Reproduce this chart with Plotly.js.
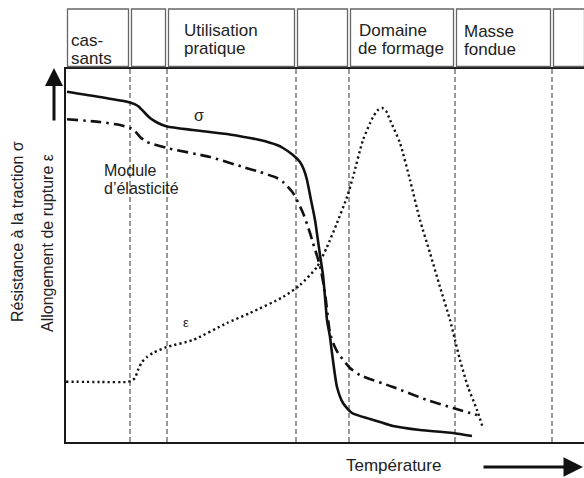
<!DOCTYPE html>
<html>
<head>
<meta charset="utf-8">
<script src="https://cdn.plot.ly/plotly-3.0.1.min.js"></script>
<style>
html,body{margin:0;padding:0;background:#fff;}
#chart{width:584px;height:478px;}
</style>
</head>
<body>
<div id="chart"></div>
<script>
// Temperature axis (arbitrary units) and curve values (arbitrary units)
var sigmaT = [1,34,64,72,78,84,92,101,127,161,184,194,211,217,227,234,238,241,245,249,254,257,259,261,264,266,271,277,286,304,314,327,354,387,406];
var sigmaV = [350.3,345,339.5,336,330,324,319,315.5,312,308,304,302,297,294,287,280,272,262,242,222,187,167,145,122,105,89,55,39,29,23,20,16,12,9,6];

var moduleT = [1,34,54,64,69,74,81,101,144,177,194,211,217,227,237,244,247,254,259,264,268,272,284,294,327,361,387,411];
var moduleV = [322.7,320,317,314,311,305,300,294,285,275,270,264,260,249,229,209,199,176,149,109,97,89,74,67,55,42,34,27];

var epsT = [0,34,61,65,69,72,76,81,87,101,127,161,184,217,234,251,261,271,281,287,297,307,312,316,320,324,334,344,354,364,374,384,389,394,402,411,417];
var epsV = [60.3,60,60,61,64,72,80,85,89,95,102,119,129,145,157,175,195,219,245,265,302,325,332,334,331,322,299,262,222,189,155,122,102,82,55,32,14];

// Zone boundaries (temperature) and zone labels
var zoneEdges = [0,64,101,230,283,389,486,520];
var zoneLines = [64,101,230,283,389,486];
var zoneLabel1 = ["cas-","","Utilisation","","Domaine","Masse",""];
var zoneLabel2 = ["sants","","pratique","","de formage","fondue",""];
var labelX1 = [3,0,116,0,291,396,0];
var labelX2 = [3,0,116,0,290,396,0];
var labelY1 = [40.5,0,30.5,0,31,31.5,0];
var labelY2 = [58.5,0,48.5,0,49,49.5,0];

var txt = '#222';
var FONT = 'Liberation Sans, Arial, sans-serif';

var traces = [
  {x: sigmaT, y: sigmaV, type:'scatter', mode:'lines', line:{color:'#111', width:2.6, shape:'spline', smoothing:0.6}, hoverinfo:'skip'},
  {x: moduleT, y: moduleV, type:'scatter', mode:'lines', line:{color:'#111', width:2.6, dash:'11px,5px,2.5px,5px', shape:'spline', smoothing:0.6}, hoverinfo:'skip'},
  {x: epsT, y: epsV, type:'scatter', mode:'lines', line:{color:'#111', width:2.4, dash:'2.2px,3px', shape:'spline', smoothing:0.6}, hoverinfo:'skip'}
];

var H = 373; // y range
function py(p){ return (442 - p)/H; }

var shapes = [];
zoneLines.forEach(function(v){
  shapes.push({type:'line', xref:'x', yref:'paper', x0:v, x1:v, y0:0, y1:1, layer:'below',
    line:{color:'#333', width:1, dash:'5px,3px'}});
});
for (var i=0;i<zoneEdges.length-1;i++){
  shapes.push({type:'rect', xref:'x', yref:'paper', x0:zoneEdges[i]+1.5, x1:zoneEdges[i+1]-1.5,
    y0:py(66.5), y1:py(9), line:{color:'#666', width:1.3}, fillcolor:'rgba(0,0,0,0)'});
}

var annotations = [];
for (var j=0;j<zoneLabel1.length;j++){
  if (zoneLabel1[j]) annotations.push({xref:'x', yref:'paper', x:labelX1[j], y:py(labelY1[j]), text:zoneLabel1[j],
    showarrow:false, xanchor:'left', yanchor:'middle', font:{family:FONT, size:17, color:txt}});
  if (zoneLabel2[j]) annotations.push({xref:'x', yref:'paper', x:labelX2[j], y:py(labelY2[j]), text:zoneLabel2[j],
    showarrow:false, xanchor:'left', yanchor:'middle', font:{family:FONT, size:17, color:txt}});
}
// curve labels
annotations.push({xref:'x', yref:'y', x:133, y:327, text:'σ', showarrow:false, xanchor:'center', yanchor:'middle', font:{family:FONT, size:16, color:txt}});
annotations.push({xref:'x', yref:'y', x:36, y:272, text:'Module', showarrow:false, xanchor:'left', yanchor:'middle', font:{family:FONT, size:16, color:txt}});
annotations.push({xref:'x', yref:'y', x:36, y:254, text:'d’élasticité', showarrow:false, xanchor:'left', yanchor:'middle', font:{family:FONT, size:16, color:txt}});
annotations.push({xref:'x', yref:'y', x:120, y:120, text:'ε', showarrow:false, xanchor:'center', yanchor:'middle', font:{family:FONT, size:13, color:txt}});
// axis titles
annotations.push({xref:'paper', yref:'paper', x:(18-66)/518, y:py(232), text:'Résistance à la traction σ', textangle:-90,
  showarrow:false, xanchor:'center', yanchor:'middle', font:{family:FONT, size:16, color:txt}});
annotations.push({xref:'paper', yref:'paper', x:(47-66)/518, y:py(243), text:'Allongement de rupture ε', textangle:-90,
  showarrow:false, xanchor:'center', yanchor:'middle', font:{family:FONT, size:16, color:txt}});
annotations.push({xref:'paper', yref:'paper', x:(393-66)/518, y:py(465), text:'Température',
  showarrow:false, xanchor:'center', yanchor:'middle', font:{family:FONT, size:17, color:txt}});
// arrows
annotations.push({xref:'paper', yref:'paper', x:(54-66)/518, y:py(68), ax:0, ay:54, text:'', showarrow:true,
  arrowhead:2, arrowsize:1.2, arrowwidth:3, arrowcolor:'#111'});
annotations.push({xref:'paper', yref:'paper', x:(583-66)/518, y:py(467), ax:-101, ay:0, text:'', showarrow:true,
  arrowhead:2, arrowsize:1.3, arrowwidth:3, arrowcolor:'#111'});

var layout = {
  width:584, height:478,
  margin:{l:66, r:0, t:69, b:36, pad:0},
  paper_bgcolor:'#fff', plot_bgcolor:'#fff',
  showlegend:false,
  xaxis:{range:[0,518], showticklabels:false, ticks:'', showgrid:false, zeroline:false,
    showline:true, linewidth:2, linecolor:'#1a1a1a', mirror:true, fixedrange:true},
  yaxis:{range:[0,373], showticklabels:false, ticks:'', showgrid:false, zeroline:false,
    showline:true, linewidth:2, linecolor:'#1a1a1a', fixedrange:true},
  shapes:shapes,
  annotations:annotations
};

Plotly.newPlot('chart', traces, layout, {staticPlot:true, displayModeBar:false});
</script>
</body>
</html>
